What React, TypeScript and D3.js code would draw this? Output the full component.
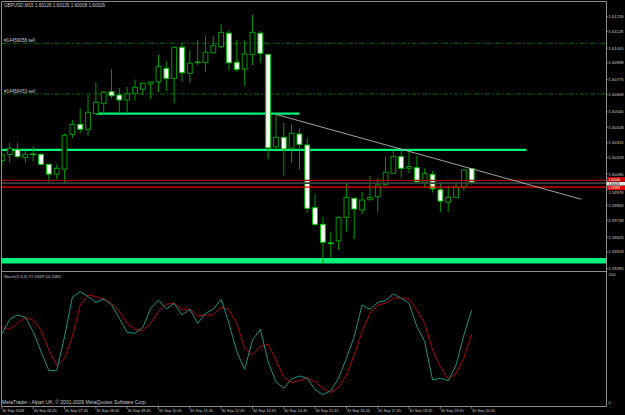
import React from 'react';
import * as d3 from 'd3';

const W = 625;
const H = 415;

// ---- Data (GBPUSD M15, 30 Sep 2009, bars 05:45 .. 20:45) ----
const opens = [
  1.60184, 1.60230, 1.60265, 1.60208, 1.60232, 1.60230, 1.60157, 1.60086, 1.60121, 1.60376,
  1.60449, 1.60413, 1.60528, 1.60603, 1.60687, 1.60663, 1.60627, 1.60676, 1.60705, 1.60744,
  1.60760, 1.60858, 1.60785, 1.61012, 1.60822, 1.60899, 1.60901, 1.60972, 1.61016, 1.61114,
  1.60902, 1.60853, 1.60960, 1.61114, 1.60960, 1.60286, 1.60354, 1.60274, 1.60378, 1.60298,
  1.59840, 1.59719, 1.59583, 1.59599, 1.59770, 1.59909, 1.59823, 1.59902, 1.59921, 1.60011,
  1.60092, 1.60213, 1.60128, 1.60132, 1.60026, 1.60084, 1.59971, 1.59880, 1.59916, 1.59994,
  1.60126,
];
const highs = [
  1.60247, 1.60315, 1.60313, 1.60258, 1.60289, 1.60236, 1.60159, 1.60157, 1.60382, 1.60481,
  1.60566, 1.60663, 1.60756, 1.60692, 1.60851, 1.60714, 1.60722, 1.60776, 1.60755, 1.60760,
  1.60955, 1.60908, 1.61017, 1.61041, 1.60992, 1.61065, 1.61094, 1.61096, 1.61180, 1.61138,
  1.61065, 1.61058, 1.61247, 1.61131, 1.60963, 1.60528, 1.60461, 1.60449, 1.60420, 1.60351,
  1.59940, 1.59772, 1.59665, 1.59776, 1.60013, 1.59911, 1.59957, 1.60072, 1.60059, 1.60213,
  1.60258, 1.60254, 1.60257, 1.60218, 1.60128, 1.60108, 1.60030, 1.60002, 1.60030, 1.60121,
  1.60126,
];
const lows = [
  1.60152, 1.60169, 1.60203, 1.60169, 1.60181, 1.60148, 1.60011, 1.60048, 1.60013, 1.60347,
  1.60384, 1.60366, 1.60525, 1.60517, 1.60639, 1.60530, 1.60534, 1.60622, 1.60661, 1.60634,
  1.60685, 1.60692, 1.60603, 1.60760, 1.60753, 1.60882, 1.60833, 1.60968, 1.61004, 1.60841,
  1.60833, 1.60731, 1.60882, 1.60895, 1.60194, 1.60249, 1.60074, 1.60169, 1.60121, 1.59804,
  1.59707, 1.59436, 1.59475, 1.59531, 1.59665, 1.59612, 1.59794, 1.59889, 1.59804, 1.59994,
  1.60090, 1.60059, 1.60092, 1.60018, 1.59984, 1.59951, 1.59807, 1.59811, 1.59915, 1.59964,
  1.60008,
];
const closes = [
  1.60225, 1.60274, 1.60213, 1.60230, 1.60229, 1.60157, 1.60086, 1.60128, 1.60369, 1.60449,
  1.60413, 1.60537, 1.60610, 1.60683, 1.60658, 1.60627, 1.60671, 1.60719, 1.60749, 1.60758,
  1.60870, 1.60785, 1.61012, 1.60826, 1.60895, 1.60906, 1.60975, 1.61023, 1.61121, 1.60899,
  1.60851, 1.60963, 1.61121, 1.60968, 1.60278, 1.60354, 1.60269, 1.60384, 1.60303, 1.59836,
  1.59719, 1.59588, 1.59579, 1.59770, 1.59916, 1.59831, 1.59896, 1.59916, 1.60006, 1.60099,
  1.60213, 1.60128, 1.60141, 1.60029, 1.60092, 1.59979, 1.59889, 1.59917, 1.59991, 1.60116,
  1.60026,
];

const stochK = [
  54.0, 65.4, 68.8, 66.9, 55.7, 40.1, 25.3, 25.3, 51.8, 82.6,
  87.0, 83.1, 78.6, 81.3, 76.6, 66.1, 55.2, 54.4, 59.1, 74.0,
  80.5, 73.4, 77.9, 68.8, 73.2, 62.2, 70.1, 73.2, 81.0, 62.2,
  40.1, 26.3, 49.2, 57.6, 32.3, 16.6, 11.5, 18.8, 21.1, 19.3,
  10.5, 6.5, 9.6, 19.3, 35.0, 52.0, 76.6, 73.2, 78.6, 80.0,
  85.2, 81.8, 77.9, 59.6, 47.9, 18.0, 19.3, 17.4, 29.7, 53.1,
  72.5949,
];
const stochD = [
  58.8, 57.6, 62.2, 66.7, 64.8, 57.0, 41.4, 29.7, 34.9, 51.8,
  76.6, 84.4, 83.1, 81.3, 77.9, 71.4, 62.2, 57.6, 56.5, 62.2,
  71.4, 77.1, 77.9, 73.2, 73.2, 68.0, 68.8, 68.8, 74.7, 72.7,
  62.2, 42.7, 37.5, 44.0, 46.1, 33.6, 20.1, 15.9, 17.4, 19.3,
  16.6, 11.5, 8.1, 12.2, 21.9, 37.5, 55.7, 70.1, 76.6, 77.9,
  81.8, 82.3, 81.0, 72.7, 62.2, 41.4, 28.4, 18.5, 23.2, 34.9,
  54.2085,
];

const priceTicks = [
  '1.61235', '1.61128', '1.61005', '1.60898', '1.60775', '1.60668', '1.60540', '1.60428',
  '1.60315', '1.60208', '1.60085', '1.59978', '1.59855', '1.59748', '1.59625', '1.59518', '1.59395',
];
const timeLabels = [
  '30 Sep 2009', '30 Sep 06:45', '30 Sep 07:45', '30 Sep 08:45', '30 Sep 09:45', '30 Sep 10:45',
  '30 Sep 11:45', '30 Sep 12:45', '30 Sep 13:45', '30 Sep 14:45', '30 Sep 15:45', '30 Sep 16:45',
  '30 Sep 17:45', '30 Sep 18:45', '30 Sep 19:45', '30 Sep 20:45',
];
const timeLabelBars = [0, 4, 8, 12, 16, 20, 24, 28, 32, 36, 40, 44, 48, 52, 56, 60];

// horizontal green trend segments: price, from bar, to bar
const segPrices = [1.60528, 1.60262];
const segFrom = [12, -1];
const segTo = [38, 67];
const supportPrice = 1.59453;

const orderPrices = [1.61041, 1.60671];
const orderLabels = ['#14459058 sell', '#14458453 sell'];

const redPrices = [1.60040, 1.59991];
const redLabels = ['1.60040', '1.59991'];
const bidPrice = 1.60026;
const bidLabel = '1.60026';

const trendBars = [35, 74];
const trendPrices = [1.60522, 1.59902];

const title = 'GBPUSD,M15 1.60126 1.60126 1.60008 1.60026';
const stochTitle = 'Stoch(5,3,3) 72.5949 54.2085';
const copyright = 'MetaTrader - Alpari UK, \u00A9 2001-2009 MetaQuotes Software Corp.';
const stochTicks = ['100', '0'];
const stochTickValues = [100, 0];

const FONT = 'Liberation Sans, Arial, sans-serif';
const TXT = '#c8c8c8';
const BORDER = '#8c8c8c';
const WICK = '#009a00';
const BEAR_EDGE = '#00c800';
const SPRING = '#00f27a';

export default function App() {
  const right = 606.5;
  const x = d3.scaleLinear().domain([0, 60]).range([1.9, 471.7]);
  const y = d3.scaleLinear().domain([1.61235, 1.59395]).range([16.7, 268.7]);
  const ys = d3.scaleLinear().domain([0, 100]).range([403, 275]);

  const kLine = d3.line<number>().x((_, i) => x(i)).y((d) => ys(d));
  const trendLine = d3.line<number>().x((d) => x(d)).y((_, i) => y(trendPrices[i]));

  const yr0 = y(redPrices[0]) - 1.0;
  const yb = y(bidPrice) + 1.4;
  const yr1 = y(redPrices[1]) + 0.9;

  // tick labels hidden behind the marker labels get pushed just below them
  const tickY = (t: string) => {
    const v = y(+t);
    if (v > yr0 - 3.5 && v < yr1 + 4.2) return v < yr0 ? yr0 - 4.3 : yr1 + 4.3;
    return v;
  };

  return (
    <svg
      width={W}
      height={H}
      viewBox={`0 0 ${W} ${H}`}
      style={{ position: 'fixed', left: 0, top: 0, display: 'block', background: '#000' }}
      fontFamily={FONT}
    >
      <defs>
        <clipPath id="mainClip">
          <rect x={2} y={2} width={right - 2} height={268} />
        </clipPath>
        <clipPath id="subClip">
          <rect x={2} y={272} width={right - 2} height={134} />
        </clipPath>
      </defs>
      <rect x={0} y={0} width={W} height={H} fill="#000" />

      {/* main window */}
      <g clipPath="url(#mainClip)">
        {orderPrices.map((p, i) => (
          <line key={'o' + i} x1={2} x2={right} y1={y(p)} y2={y(p)} stroke="#0a6e0a" strokeWidth={1}
            strokeDasharray="5,2,1.5,2" />
        ))}
        {segPrices.map((p, i) => (
          <line key={'s' + i} x1={Math.max(x(segFrom[i]), 0)} x2={x(segTo[i])} y1={y(p)} y2={y(p)}
            stroke={SPRING} strokeWidth={2.2} />
        ))}
        <line x1={2} x2={right} y1={y(supportPrice)} y2={y(supportPrice)} stroke={SPRING} strokeWidth={5.5} />

        {opens.map((o, i) => {
          const c = closes[i];
          const cx = x(i);
          const bull = c > o;
          const top = y(Math.max(o, c));
          const bot = y(Math.min(o, c));
          const hgt = Math.max(bot - top, 0.6);
          return (
            <g key={'c' + i}>
              <line x1={cx} x2={cx} y1={y(highs[i])} y2={y(lows[i])} stroke={WICK} strokeWidth={1} />
              <rect x={cx - 2.4} y={top} width={4.8} height={hgt}
                fill={bull ? '#000' : '#ffffff'} stroke={bull ? WICK : BEAR_EDGE} strokeWidth={1} />
            </g>
          );
        })}

        <line x1={2} x2={right} y1={y(redPrices[0])} y2={y(redPrices[0])} stroke="#a00000" strokeWidth={1.2} />
        <line x1={2} x2={right} y1={y(bidPrice) + 0.8} y2={y(bidPrice) + 0.8} stroke="#3c3c3c" strokeWidth={1.6} />
        <line x1={2} x2={right} y1={y(redPrices[1])} y2={y(redPrices[1])} stroke="#f00000" strokeWidth={1.2} />

        <path d={trendLine(trendBars) || ''} fill="none" stroke="#b4b4b4" strokeWidth={0.9} />

        {orderPrices.map((p, i) => (
          <text key={'ol' + i} x={4} y={y(p) - 1.2} fontSize={4.6} fill={TXT}>{orderLabels[i]}</text>
        ))}
      </g>

      <text x={4} y={6.6} fontSize={4.6} fill={TXT}>{title}</text>

      {/* price axis */}
      {priceTicks.map((t, i) => (
        <g key={'pt' + i}>
          <line x1={right} x2={right + 2} y1={y(+t)} y2={y(+t)} stroke={BORDER} strokeWidth={0.8} />
          <text x={608.5} y={tickY(t)} dy="0.35em" fontSize={4.2} fill={TXT}>{t}</text>
        </g>
      ))}
      {/* red / bid price labels */}
      <rect x={607} y={yr0 - 2.2} width={18} height={4.4} fill="#d00000" />
      <rect x={607} y={yr1 - 2.2} width={18} height={4.4} fill="#e00000" />
      <rect x={607} y={yb - 1.8} width={18} height={3.6} fill="#e8e8e8" />
      <text x={608.5} y={yr0} dy="0.35em" fontSize={3.3} fill="#ffffff">{redLabels[0]}</text>
      <text x={608.5} y={yb} dy="0.35em" fontSize={3.1} fill="#000">{bidLabel}</text>
      <text x={608.5} y={yr1} dy="0.35em" fontSize={3.3} fill="#ffffff">{redLabels[1]}</text>

      {/* stochastic window */}
      <g clipPath="url(#subClip)">
        <path d={kLine(stochD) || ''} fill="none" stroke="#aa0808" strokeWidth={1} />
        <path d={kLine(stochK) || ''} fill="none" stroke="#1b9282" strokeWidth={1} />
      </g>
      <text x={4} y={277.5} fontSize={4.3} fill={TXT}>{stochTitle}</text>
      <text x={2} y={403.5} fontSize={4.5} fill={TXT} textLength={145} lengthAdjust="spacingAndGlyphs">{copyright}</text>
      {stochTicks.map((t, i) => (
        <text key={'st' + i} x={608.5} y={ys(stochTickValues[i])} dy="0.35em" fontSize={4.2} fill={TXT}>{t}</text>
      ))}

      {/* borders */}
      <line x1={1.5} x2={right} y1={1.5} y2={1.5} stroke={BORDER} strokeWidth={1} />
      <line x1={1.5} x2={1.5} y1={1.5} y2={406.5} stroke={BORDER} strokeWidth={1} />
      <line x1={right} x2={right} y1={1.5} y2={406.5} stroke={BORDER} strokeWidth={1} />
      <line x1={1.5} x2={right} y1={271.5} y2={271.5} stroke={BORDER} strokeWidth={1} />
      <line x1={1.5} x2={right} y1={406.5} y2={406.5} stroke={BORDER} strokeWidth={1} />

      {/* time axis */}
      {timeLabels.map((t, i) => (
        <g key={'tl' + i}>
          <line x1={x(timeLabelBars[i])} x2={x(timeLabelBars[i])} y1={406.5} y2={409} stroke={BORDER} strokeWidth={0.8} />
          <text x={x(timeLabelBars[i]) + 0.3} y={411.8} fontSize={3.9} fill={TXT}>{t}</text>
        </g>
      ))}
    </svg>
  );
}
